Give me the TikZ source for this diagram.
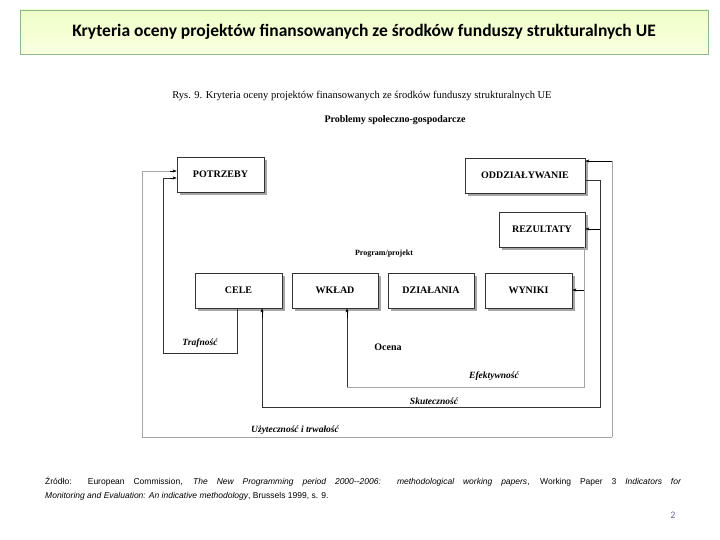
\documentclass[tikz,border=0pt]{standalone}
\usepackage{fontspec}
\setmainfont{Liberation Serif}
\newfontfamily\calib{Carlito}
\newfontfamily\arialf{Liberation Sans}
\usetikzlibrary{arrows.meta}
\begin{document}
\begin{tikzpicture}[x=1pt,y=-1pt,
  bx/.style={draw=black!80,line width=0.8pt,fill=white,minimum height=35pt,font=\bfseries\fontsize{10}{11}\selectfont,inner sep=0pt},
  dk/.style={draw=black!80,line width=0.7pt},
  lt/.style={draw=black!35,line width=0.9pt},
  arr/.style={-{Stealth[length=4pt,width=3pt]},black}
]
\useasboundingbox (0,0) rectangle (720,540);
\node[draw=green!40!black!45,line width=0.6pt,top color=green!30!yellow!22,bottom color=green!15!yellow!12,minimum width=688pt,minimum height=44pt,font=\calib\bfseries\fontsize{17.5}{20}\selectfont] (title) at (364,32) {Kryteria oceny projektów finansowanych ze środków funduszy strukturalnych UE};
\node[font=\fontsize{10.5}{12}\selectfont] (cap) at (362,96) {Rys. 9. Kryteria oceny projektów finansowanych ze środków funduszy strukturalnych UE};
\node[font=\bfseries\fontsize{10}{11}\selectfont] (prob) at (395,120) {Problemy społeczno-gospodarcze};
\foreach \a/\b/\c/\d in {177/157/264/192, 465/158/585/193, 499/212/585/247, 195/273/282/308, 292/273/378/308, 388/273/474/308, 485/273/572/308}
  \fill[black!35] (\a+3,\b+3) rectangle (\c+3,\d+3);
\node[bx,minimum width=87pt] (pot) at (220.5,174.5) {POTRZEBY};
\node[bx,minimum width=120pt] (odd) at (525,175.5) {ODDZIAŁYWANIE};
\node[bx,minimum width=86pt] (rez) at (542,229.5) {REZULTATY};
\node[bx,minimum width=87pt] (cel) at (238.5,290.5) {CELE};
\node[bx,minimum width=86pt] (wkl) at (335,290.5) {WKŁAD};
\node[bx,minimum width=86pt] (dzi) at (431,290.5) {DZIAŁANIA};
\node[bx,minimum width=87pt] (wyn) at (528.5,290.5) {WYNIKI};
\node[font=\bfseries\fontsize{8}{9}\selectfont] (prog) at (384,254) {Program/projekt};
\node[font=\bfseries\fontsize{10}{11}\selectfont] (oc) at (388,347) {Ocena};
\node[font=\bfseries\itshape\fontsize{9.5}{11}\selectfont] (tr) at (200,343) {Trafność};
\node[font=\bfseries\itshape\fontsize{9.5}{11}\selectfont] (ef) at (494,376) {Efektywność};
\node[font=\bfseries\itshape\fontsize{9.5}{11}\selectfont] (sk) at (434,401) {Skuteczność};
\node[font=\bfseries\itshape\fontsize{9.5}{11}\selectfont] (uz) at (295,430) {Użyteczność i trwałość};
\coordinate (u1) at (612,437);
\draw[lt] (u1) -- (612,161) coordinate (u0);
\draw[arr] (u0) -- (odd.east |- u0);
\draw[lt] (u1) -- (142,437) -- (142,171) -- (170,171);
\draw[arr] (170,171) -- (pot.west |- 0,171);
\draw[dk] (cel.south -| 237,0) -- (237,353) -- (163,353) -- (163,178) -- (170,178);
\draw[arr] (170,178) -- (pot.west |- 0,178);
\draw[dk] (odd.east |- 0,180) -- (600,180) -- (600,407) -- (262,407) -- (262,318);
\draw[arr] (262,318) -- (cel.south -| 262,0);
\draw[arr] (600,229) -- (rez.east |- 0,229);
\draw[lt] (rez.south -| 584,0) -- (584,387) -- (347,387);
\draw[dk] (347,387) -- (347,318);
\draw[arr] (347,318) -- (wkl.south -| 347,0);
\draw[arr] (584,290) -- (wyn.east |- 0,290);
\node[font=\arialf\fontsize{8.5}{14}\selectfont,text width=636pt,align=justify,anchor=north west,inner sep=0pt] (src) at (45,477) {Źródło: European Commission, \textit{The New Programming period 2000--2006: methodological working papers}, Working Paper 3 \textit{Indicators for}\linebreak \textit{Monitoring and Evaluation: An indicative methodology}, Brussels 1999, s. 9.};
\node[font=\calib\fontsize{10}{12}\selectfont,text=blue!40!black!60] (pg) at (673,515) {2};
\end{tikzpicture}
\end{document}
